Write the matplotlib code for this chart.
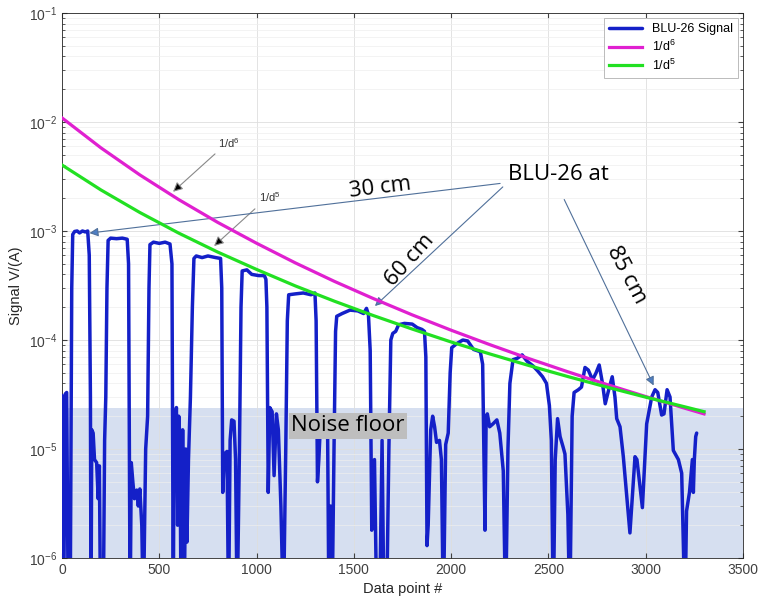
import matplotlib
matplotlib.use("Agg")
import matplotlib.pyplot as plt
import numpy as np

plt.rcParams['font.family'] = ['Liberation Sans', 'DejaVu Sans']
plt.rcParams['mathtext.default'] = 'regular'

# BLU-26 signal (values below 1e-6 run off the axis)
sig_x = [0, 8, 17, 24, 32, 42, 50, 55, 65, 78, 90, 105, 120, 132, 140, 146,
         149, 153, 160, 167, 178, 186, 192, 198, 212, 219, 225, 231, 237, 250, 280, 310, 335, 342,
         350, 356, 364, 372, 384, 392, 400, 410, 418, 430, 440, 447, 452, 470, 500, 530, 555, 565,
         572, 576, 582, 588, 594, 600, 606, 612, 620, 628, 636, 642, 650, 660, 670, 678, 690, 720, 750, 790, 815, 821,
         826, 835, 848, 856, 864, 872, 884, 892, 900, 912, 920, 926, 950, 975, 1010, 1040, 1048, 1053,
         1060, 1068, 1080, 1090, 1102, 1112, 1125, 1138, 1150, 1158, 1165, 1200, 1240, 1280, 1300, 1306,
         1313, 1320, 1330, 1350, 1365, 1372, 1380, 1388, 1398, 1406, 1412, 1440, 1480, 1520, 1550, 1565, 1575, 1584,
         1592, 1606, 1618, 1632, 1645, 1655, 1668, 1680, 1690, 1700, 1715, 1730, 1760, 1800, 1825, 1850, 1863, 1870,
         1876, 1882, 1895, 1905, 1915, 1925, 1940, 1950, 1960, 1972, 1985, 1995, 2003, 2030, 2060, 2085, 2115, 2150, 2162,
         2174, 2180, 2186, 2198, 2215, 2235, 2250, 2268, 2280, 2292, 2302, 2318, 2340, 2365, 2390, 2420, 2445, 2470, 2490,
         2505, 2515, 2525, 2535, 2547, 2560, 2575, 2585, 2600, 2610, 2622, 2632, 2654, 2670, 2688, 2705, 2727, 2745, 2761,
         2778, 2792, 2810, 2828, 2842, 2851, 2868, 2885, 2919, 2945, 2955, 2983, 3005, 3031, 3048, 3062, 3082, 3094,
         3110, 3125, 3142, 3168, 3185, 3202, 3210, 3225, 3240, 3245, 3250, 3257, 3262]
sig_y = [3.1e-5, 3e-7, 3.2e-5, 3.3e-5, 3e-7, 3e-7, 3e-4, 9.3e-4, 9.9e-4, 1.0e-3, 9.6e-4, 1.0e-3, 9.8e-4, 1.0e-3, 6e-4, 3e-5,
         3e-7, 1.5e-5, 1.4e-5, 8e-6, 7.5e-6, 3.5e-6, 7e-6, 3e-7, 3e-7, 1.2e-5, 3e-5, 3e-4, 8.2e-4, 8.6e-4, 8.5e-4, 8.6e-4, 8.4e-4, 5e-4,
         3e-7, 7.5e-6, 5e-6, 3.5e-6, 4.2e-6, 3e-6, 4.3e-6, 2e-6, 3e-7, 1e-5, 2e-5, 3e-4, 7.5e-4, 7.9e-4, 7.7e-4, 7.9e-4, 7.6e-4, 5e-4,
         3e-7, 2.2e-5, 1.6e-5, 2.4e-5, 2e-6, 2.0e-5, 1.2e-5, 3e-7, 1.5e-5, 3e-7, 1e-5, 1.4e-6, 8e-6, 3e-5, 2e-4, 5.6e-4, 5.9e-4, 5.7e-4, 5.9e-4, 5.7e-4, 5.6e-4, 3e-4,
         4e-6, 9e-6, 9.5e-6, 3e-7, 1.2e-5, 1.85e-5, 1.8e-5, 8e-6, 3e-7, 1e-5, 2e-4, 4.3e-4, 4.4e-4, 4.0e-4, 3.9e-4, 3.9e-4, 3.6e-4, 2e-4,
         4e-6, 2.4e-5, 2.2e-5, 5.7e-6, 2.1e-5, 1.5e-5, 3e-6, 3e-7, 1e-5, 1.5e-4, 2.6e-4, 2.65e-4, 2.7e-4, 2.6e-4, 2.7e-4, 1.5e-4,
         5e-6, 8e-6, 2e-5, 2.0e-5, 1.5e-5, 3e-7, 3e-6, 3e-7, 1e-5, 1.2e-4, 1.65e-4, 1.75e-4, 1.88e-4, 1.85e-4, 1.75e-4, 1.95e-4, 1.7e-4, 8e-5,
         1.8e-6, 8e-6, 3e-7, 3e-7, 1.2e-5, 3e-7, 3e-7, 1e-5, 1e-4, 1.15e-4, 1.2e-4, 1.38e-4, 1.42e-4, 1.4e-4, 1.3e-4, 1.25e-4, 1.2e-4, 7e-5,
         1.3e-6, 2e-6, 1.5e-5, 2.0e-5, 1.6e-5, 1.15e-5, 1.2e-5, 8e-6, 3e-7, 1.1e-5, 1.4e-5, 5e-5, 8.5e-5, 9.3e-5, 1.0e-4, 9.8e-5, 8.2e-5, 7.8e-5, 6e-5,
         1.8e-6, 2.0e-5, 2.1e-5, 1.6e-5, 1.7e-5, 1.85e-5, 1.4e-5, 6.3e-6, 3e-7, 1e-5, 4e-5, 6.6e-5, 6.8e-5, 7.3e-5, 6.4e-5, 5.8e-5, 5.2e-5, 4.6e-5, 4e-5,
         2.5e-5, 1.2e-5, 3e-7, 8e-6, 1.9e-5, 1.3e-5, 1.05e-5, 9e-6, 2.5e-6, 3e-7, 2e-5, 3.3e-5, 3.5e-5, 3.7e-5, 5.6e-5, 5.3e-5, 4.3e-5, 5.0e-5, 5.9e-5,
         4.0e-5, 2.6e-5, 3.5e-5, 4.6e-5, 3e-5, 1.9e-5, 1.6e-5, 8.5e-6, 1.7e-6, 8.5e-6, 8e-6, 2.9e-6, 1.7e-5, 3.0e-5, 3.5e-5, 3.3e-5, 2.05e-5, 2.1e-5,
         3.5e-5, 3.0e-5, 9.7e-6, 8e-6, 6e-6, 3e-7, 2.7e-6, 4e-6, 8e-6, 4e-6, 8e-6, 1.3e-5, 1.4e-5]

# model curves
curve_x = [0, 200, 400, 600, 800, 1000, 1200, 1400, 1600, 1800, 2000, 2200, 2400, 2600, 2800, 3000, 3200, 3300]
d6_y = [1.09e-2, 5.79e-3, 3.27e-3, 1.94e-3, 1.20e-3, 7.72e-4, 5.09e-4, 3.45e-4, 2.40e-4, 1.70e-4,
        1.23e-4, 9.05e-5, 6.75e-5, 5.11e-5, 3.91e-5, 3.03e-5, 2.37e-5, 2.10e-5]
d5_y = [4.03e-3, 2.38e-3, 1.478e-3, 9.56e-4, 6.41e-4, 4.44e-4, 3.13e-4, 2.27e-4, 1.676e-4, 1.26e-4,
        9.59e-5, 7.44e-5, 5.83e-5, 4.62e-5, 3.70e-5, 2.99e-5, 2.44e-5, 2.20e-5]

noise_floor = 2.4e-5

fig = plt.figure(figsize=(7.6, 6.12), dpi=100)
ax = fig.add_axes([0.0816, 0.0882, 0.896, 0.8906])

ax.axhspan(1e-6, noise_floor, color='#d6dff0', zorder=0.4, lw=0)
ax.plot(sig_x, sig_y, color='#1420c8', lw=2.5, label='BLU-26 Signal', zorder=3,
        solid_joinstyle='round', solid_capstyle='round')
ax.plot(curve_x, d6_y, color='#e020d0', lw=2.3, label='1/d$^6$', zorder=4)
ax.plot(curve_x, d5_y, color='#22e022', lw=2.3, label='1/d$^5$', zorder=4)

ax.set_yscale('log')
ax.set_xlim(0, 3500)
ax.set_ylim(1e-6, 1e-1)
ax.set_xticks(np.arange(0, 3501, 500))
ax.set_axisbelow(True)
ax.grid(which='major', color='#dedede', lw=0.6)
ax.grid(which='minor', axis='y', color='#eeeeee', lw=0.5)
ax.tick_params(which='both', direction='in', top=True, right=True, colors='#404040', labelsize=10)
for s in ax.spines.values():
    s.set_color('#262626')
    s.set_linewidth(0.6)
ax.set_xlabel('Data point #', fontsize=10.5, color='#262626')
ax.set_ylabel('Signal V/(A)', fontsize=10.5, color='#262626')

leg = ax.legend(loc='upper right', fontsize=9, fancybox=False, framealpha=1,
                edgecolor='#bbbbbb', handlelength=2.6, borderaxespad=0.4, labelspacing=0.3)
leg.get_frame().set_linewidth(0.7)

# small labels with black-head arrows
ax.text(858, 6.4e-3, '1/d$^6$', fontsize=8, ha='center', va='center', color='#333333')
ax.annotate('', xy=(560, 2.2e-3), xytext=(797, 5.3e-3),
            arrowprops=dict(arrowstyle='-|>', fc='black', ec='#888888', lw=0.8, mutation_scale=14))
ax.text(1069, 2.05e-3, '1/d$^5$', fontsize=8, ha='center', va='center', color='#333333')
ax.annotate('', xy=(771, 7.0e-4), xytext=(1002, 1.66e-3),
            arrowprops=dict(arrowstyle='-|>', fc='black', ec='#888888', lw=0.8, mutation_scale=14))

# distance callouts
big = dict(family=['Open Sans', 'DejaVu Sans'], fontsize=16, color='black', ha='center', va='center')
ax.text(2554, 3.33e-3, 'BLU-26 at', **big)
ax.text(1634, 2.48e-3, '30 cm', rotation=7, **big)
ax.text(1788, 5.4e-4, '60 cm', rotation=48, **big)
ax.text(2903, 3.95e-4, '85 cm', rotation=-62, **big)
blue_arrow = dict(arrowstyle='-|>', fc='#4f7fc4', ec='#50709a', lw=0.8, mutation_scale=13)
ax.annotate('', xy=(127, 9.5e-4), xytext=(2266, 2.75e-3), arrowprops=blue_arrow)
ax.annotate('', xy=(1598, 1.97e-4), xytext=(2276, 2.64e-3), arrowprops=blue_arrow)
ax.annotate('', xy=(3047, 3.63e-5), xytext=(2575, 2.05e-3), arrowprops=blue_arrow)

ax.text(1470, 1.63e-5, 'Noise floor', family=['Open Sans', 'DejaVu Sans'], fontsize=16,
        ha='center', va='center', zorder=6,
        bbox=dict(boxstyle='square,pad=0.12', fc='#bebebe', ec='none'))

fig.savefig('out.png', dpi=100)
